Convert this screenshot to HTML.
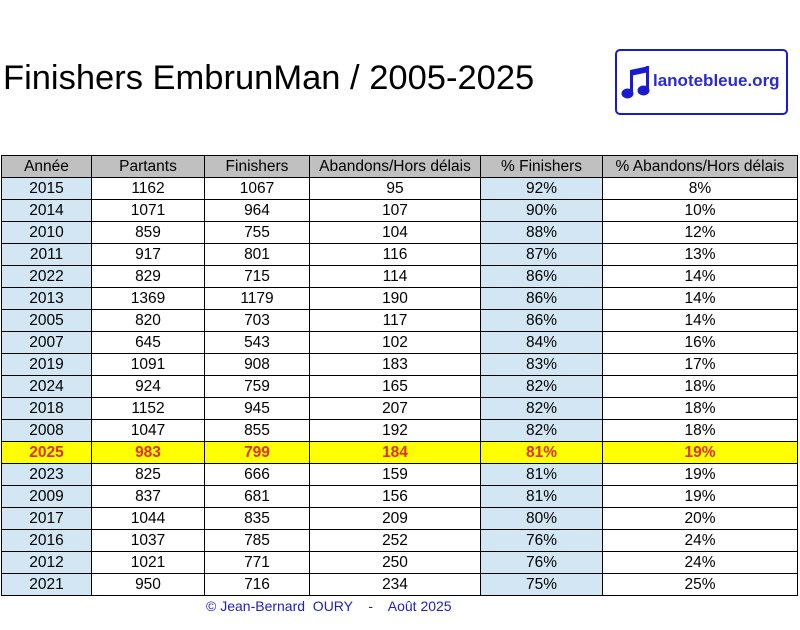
<!DOCTYPE html>
<html><head><meta charset="utf-8"><style>
body{margin:0;width:800px;height:630px;background:#fff;position:relative;font-family:"Liberation Sans",Arial,sans-serif;overflow:hidden}
#title{position:absolute;left:3px;top:59px;font-size:34.5px;color:#000;white-space:nowrap}
#logo{position:absolute;left:615px;top:49px;width:169px;height:62px;border:2px solid #1a1ad0;border-radius:5px}
#logo span{position:absolute;left:36px;top:20px;font-size:17px;font-weight:bold;color:#2a2ad0}
table{position:absolute;left:1px;top:155px;border-collapse:collapse;font-size:15.5px}
td{border:1px solid #000;height:21px;padding:0;text-align:center;line-height:21px}
tr.h td{background:#c0c0c0}
td.b{background:#d3e6f4}
tr.y td{background:#ffff00;color:#e03010;font-weight:bold}
#foot{position:absolute;left:206px;top:598px;font-size:14px;color:#2020c0;white-space:pre}
</style></head><body>
<div id="title">Finishers EmbrunMan / 2005-2025</div>
<div id="logo">
<svg style="position:absolute;left:4px;top:13px" width="30" height="36" viewBox="0 0 30 36"><path d="M9 6 L28 2 L28 8 L9 12Z" fill="#1a1ad0"/><rect x="9" y="6" width="3" height="23" fill="#1a1ad0"/><rect x="25" y="2" width="3" height="24" fill="#1a1ad0"/><ellipse cx="6.5" cy="29.5" rx="6" ry="5" fill="#1a1ad0"/><ellipse cx="22.5" cy="26.5" rx="6" ry="5" fill="#1a1ad0"/></svg>
<span>lanotebleue.org</span></div>
<table>
<colgroup><col style="width:90px"><col style="width:113px"><col style="width:105px"><col style="width:171px"><col style="width:122px"><col style="width:195px"></colgroup>
<tr class="h"><td>Année</td><td>Partants</td><td>Finishers</td><td>Abandons/Hors délais</td><td>% Finishers</td><td>% Abandons/Hors délais</td></tr>
<tr><td class="b">2015</td><td>1162</td><td>1067</td><td>95</td><td class="b">92%</td><td>8%</td></tr>
<tr><td class="b">2014</td><td>1071</td><td>964</td><td>107</td><td class="b">90%</td><td>10%</td></tr>
<tr><td class="b">2010</td><td>859</td><td>755</td><td>104</td><td class="b">88%</td><td>12%</td></tr>
<tr><td class="b">2011</td><td>917</td><td>801</td><td>116</td><td class="b">87%</td><td>13%</td></tr>
<tr><td class="b">2022</td><td>829</td><td>715</td><td>114</td><td class="b">86%</td><td>14%</td></tr>
<tr><td class="b">2013</td><td>1369</td><td>1179</td><td>190</td><td class="b">86%</td><td>14%</td></tr>
<tr><td class="b">2005</td><td>820</td><td>703</td><td>117</td><td class="b">86%</td><td>14%</td></tr>
<tr><td class="b">2007</td><td>645</td><td>543</td><td>102</td><td class="b">84%</td><td>16%</td></tr>
<tr><td class="b">2019</td><td>1091</td><td>908</td><td>183</td><td class="b">83%</td><td>17%</td></tr>
<tr><td class="b">2024</td><td>924</td><td>759</td><td>165</td><td class="b">82%</td><td>18%</td></tr>
<tr><td class="b">2018</td><td>1152</td><td>945</td><td>207</td><td class="b">82%</td><td>18%</td></tr>
<tr><td class="b">2008</td><td>1047</td><td>855</td><td>192</td><td class="b">82%</td><td>18%</td></tr>
<tr class="y"><td>2025</td><td>983</td><td>799</td><td>184</td><td>81%</td><td>19%</td></tr>
<tr><td class="b">2023</td><td>825</td><td>666</td><td>159</td><td class="b">81%</td><td>19%</td></tr>
<tr><td class="b">2009</td><td>837</td><td>681</td><td>156</td><td class="b">81%</td><td>19%</td></tr>
<tr><td class="b">2017</td><td>1044</td><td>835</td><td>209</td><td class="b">80%</td><td>20%</td></tr>
<tr><td class="b">2016</td><td>1037</td><td>785</td><td>252</td><td class="b">76%</td><td>24%</td></tr>
<tr><td class="b">2012</td><td>1021</td><td>771</td><td>250</td><td class="b">76%</td><td>24%</td></tr>
<tr><td class="b">2021</td><td>950</td><td>716</td><td>234</td><td class="b">75%</td><td>25%</td></tr>
</table>
<div id="foot">© Jean-Bernard  OURY    -    Août 2025</div>
</body></html>
